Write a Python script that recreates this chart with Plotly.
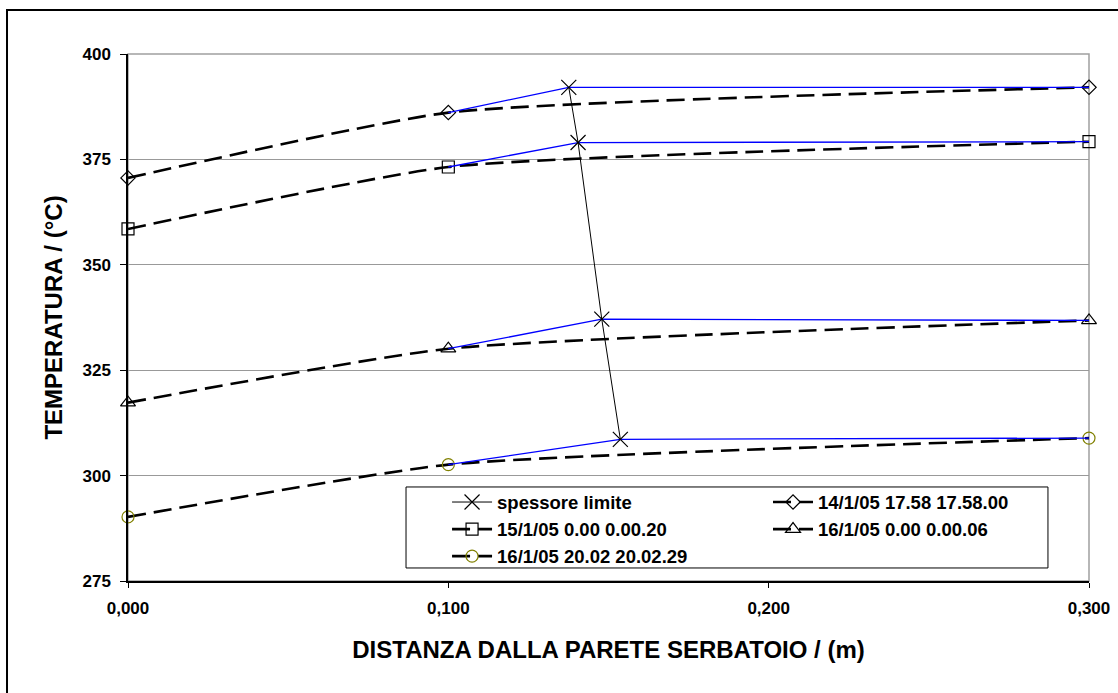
import plotly.graph_objects as go

# ---- data ----
x_pts = [0.0, 0.1, 0.3]
s_14 = [370.6, 386.1, 392.1]   # 14/1/05 17.58 17.58.00
s_15 = [358.5, 373.2, 379.2]   # 15/1/05 0.00 0.00.20
s_16a = [317.3, 330.1, 336.8]  # 16/1/05 0.00 0.00.06
s_16b = [290.2, 302.6, 308.9]  # 16/1/05 20.02 20.02.29

lim_x = [0.1376, 0.1405, 0.1479, 0.1537]   # spessore limite
lim_y = [392.1, 379.0, 337.1, 308.6]

names = ["14/1/05 17.58 17.58.00", "15/1/05 0.00 0.00.20",
         "16/1/05 0.00 0.00.06", "16/1/05 20.02 20.02.29"]
series = [s_14, s_15, s_16a, s_16b]
symbols = ["diamond-open", "square-open", "triangle-up-open", "circle-open"]
mcolors = ["black", "black", "black", "#808000"]
msizes = [11, 12, 13, 12]
# legend column for each series (row-major order of the reference legend)
leg_of = ["legend2", "legend", "legend2", "legend"]

x_ticks = [0.0, 0.1, 0.2, 0.3]
y_ticks = [275, 300, 325, 350, 375, 400]

FONT = "Arial, Liberation Sans, sans-serif"

fig = go.Figure()

# dashed smoothed series
for i, (nm, s) in enumerate(zip(names, series)):
    fig.add_trace(go.Scatter(
        x=x_pts, y=s, name=nm, mode="lines+markers",
        line=dict(color="black", width=2.6, dash="18px,8px", shape="spline", smoothing=0.5),
        marker=dict(symbol=symbols[i], size=msizes[i], color=mcolors[i],
                    line=dict(color=mcolors[i], width=1.2)),
        legend=leg_of[i], legendrank=2 + i, cliponaxis=False,
    ))

# blue connectors to the limit thickness
for i, s in enumerate(series):
    fig.add_trace(go.Scatter(
        x=[x_pts[1], lim_x[i], x_pts[2]], y=[s[1], lim_y[i], s[2]],
        mode="lines", line=dict(color="#0000FF", width=1.3),
        showlegend=False, hoverinfo="skip", cliponaxis=False,
    ))

# spessore limite
fig.add_trace(go.Scatter(
    x=lim_x, y=lim_y, name="spessore limite", mode="lines+markers",
    line=dict(color="black", width=1),
    marker=dict(symbol="x-thin", size=15, line=dict(color="black", width=1.2)),
    legend="legend", legendrank=1, cliponaxis=False,
))

leg_font = dict(family=FONT, size=18.5, weight="bold", color="black")
leg_common = dict(xanchor="left", yanchor="top", orientation="v",
                  borderwidth=0, bgcolor="rgba(0,0,0,0)",
                  font=leg_font, tracegroupgap=0, itemwidth=40)

fig.update_layout(
    width=1118, height=693,
    margin=dict(l=128, r=29, t=54, b=112),
    paper_bgcolor="white", plot_bgcolor="white",
    separators=",.",
    font=dict(family=FONT, color="black"),
    showlegend=True,
    legend=dict(x=0.332, y=0.185, **leg_common),
    legend2=dict(x=0.666, y=0.185, **leg_common),
    xaxis=dict(
        range=[0, 0.3], tickvals=x_ticks, tickformat=".3f",
        showgrid=False, zeroline=False,
        showline=True, linecolor="black", linewidth=1.5,
        ticks="outside", ticklen=5, tickcolor="black",
        ticklabelstandoff=6,
        tickfont=dict(family=FONT, size=17, weight="bold"),
        title=dict(text="DISTANZA DALLA PARETE SERBATOIO / (m)", standoff=24,
                   font=dict(family=FONT, size=24, weight="bold")),
        automargin=False,
    ),
    yaxis=dict(
        range=[275, 400], tickvals=y_ticks,
        showgrid=True, gridcolor="#999999", gridwidth=1, zeroline=False,
        showline=True, linecolor="black", linewidth=1.5,
        ticks="outside", ticklen=6, tickcolor="black",
        ticklabelstandoff=6,
        tickfont=dict(family=FONT, size=17, weight="bold"),
        title=dict(text="TEMPERATURA / (°C)", standoff=13,
                   font=dict(family=FONT, size=24, weight="bold")),
        automargin=False,
    ),
    shapes=[
        dict(type="rect", xref="paper", yref="paper", x0=0, x1=1, y0=0, y1=1,
             line=dict(color="#a0a0a0", width=1.5), layer="below"),
        dict(type="rect", xref="paper", yref="paper", x0=-0.1259, x1=1.04, y0=-0.23, y1=1.0835,
             line=dict(color="black", width=2), layer="below"),
        # legend frame
        dict(type="rect", xref="paper", yref="paper", x0=0.2893, x1=0.9573, y0=0.0247, y1=0.1784,
             line=dict(color="black", width=1), fillcolor="white", layer="above"),
    ],
)

fig.write_html("out.html",
               config={"displayModeBar": False},
               post_script="document.body.style.margin='0';document.body.style.overflow='hidden';")
